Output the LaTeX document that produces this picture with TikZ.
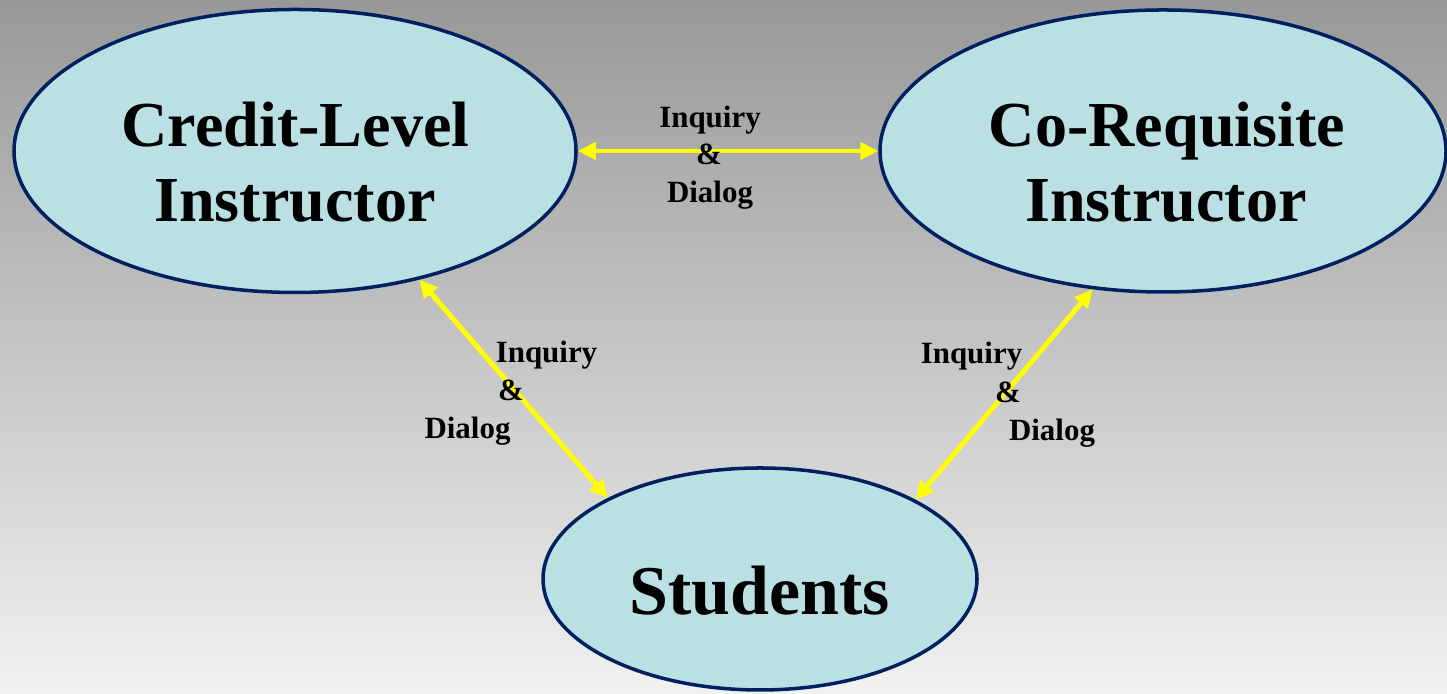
\documentclass[tikz,border=0pt]{standalone}
\usepackage{fontspec}
\setmainfont{Liberation Serif}
\usetikzlibrary{arrows.meta,shapes.geometric}
\definecolor{bgtop}{RGB}{152,152,152}
\definecolor{bgbot}{RGB}{241,241,241}
\definecolor{blobfill}{RGB}{187,224,228}
\definecolor{blobline}{RGB}{0,32,96}
\definecolor{arrowyellow}{RGB}{255,255,0}
\tikzset{
  blob/.style={ellipse, draw=blobline, fill=blobfill, line width=1pt, inner sep=0pt},
  bigtext/.style={anchor=base, inner sep=0pt, font=\fontsize{18.25}{21}\selectfont\bfseries},
  studtext/.style={anchor=base, inner sep=0pt, font=\fontsize{19.9}{23}\selectfont\bfseries},
  lbl/.style={anchor=base, inner sep=0pt, font=\fontsize{8.8}{10.5}\selectfont\bfseries},
  link/.style={draw=arrowyellow, line width=1.4pt,
    {Triangle[length=0.18cm,width=0.17cm]}-{Triangle[length=0.18cm,width=0.17cm]}}
}
\begin{document}
\begin{tikzpicture}
\shade[top color=bgtop, bottom color=bgbot] (0,0) rectangle (14.47,6.94);
\useasboundingbox (0,0) rectangle (14.47,6.94);

\node[blob, minimum width=5.62cm, minimum height=2.83cm] (cli) at (2.95,5.43) {};
\node[blob, minimum width=5.66cm, minimum height=2.82cm] (cri) at (11.63,5.43) {};
\node[blob, minimum width=4.34cm, minimum height=2.22cm] (stu) at (7.60,1.15) {};

\node[bigtext] (cliA) at (2.955,5.47) {Credit-Level};
\node[bigtext] (cliB) at (2.95,4.72) {Instructor};
\node[bigtext] (criA) at (11.67,5.47) {Co-Requisite};
\node[bigtext] (criB) at (11.66,4.72) {Instructor};
\node[studtext] (stuA) at (7.60,0.79) {Students};

\draw[link] (cli.east) -- (cri.west);
\draw[link] (cli.-46.1) -- (stu.152.8);
\draw[link] (cri.-117.9) -- (stu.27.3);

\node[lbl] (tq) at (7.10,5.66) {Inquiry};
\node[lbl] (ta) at (7.09,5.29) {\&};
\node[lbl] (td) at (7.10,4.91) {Dialog};

\node[lbl] (lq) at (5.465,3.31) {Inquiry};
\node[lbl] (la) at (5.11,2.93) {\&};
\node[lbl] (ld) at (4.675,2.55) {Dialog};

\node[lbl] (rq) at (9.715,3.30) {Inquiry};
\node[lbl] (ra) at (10.08,2.91) {\&};
\node[lbl] (rd) at (10.52,2.53) {Dialog};
\end{tikzpicture}
\end{document}
